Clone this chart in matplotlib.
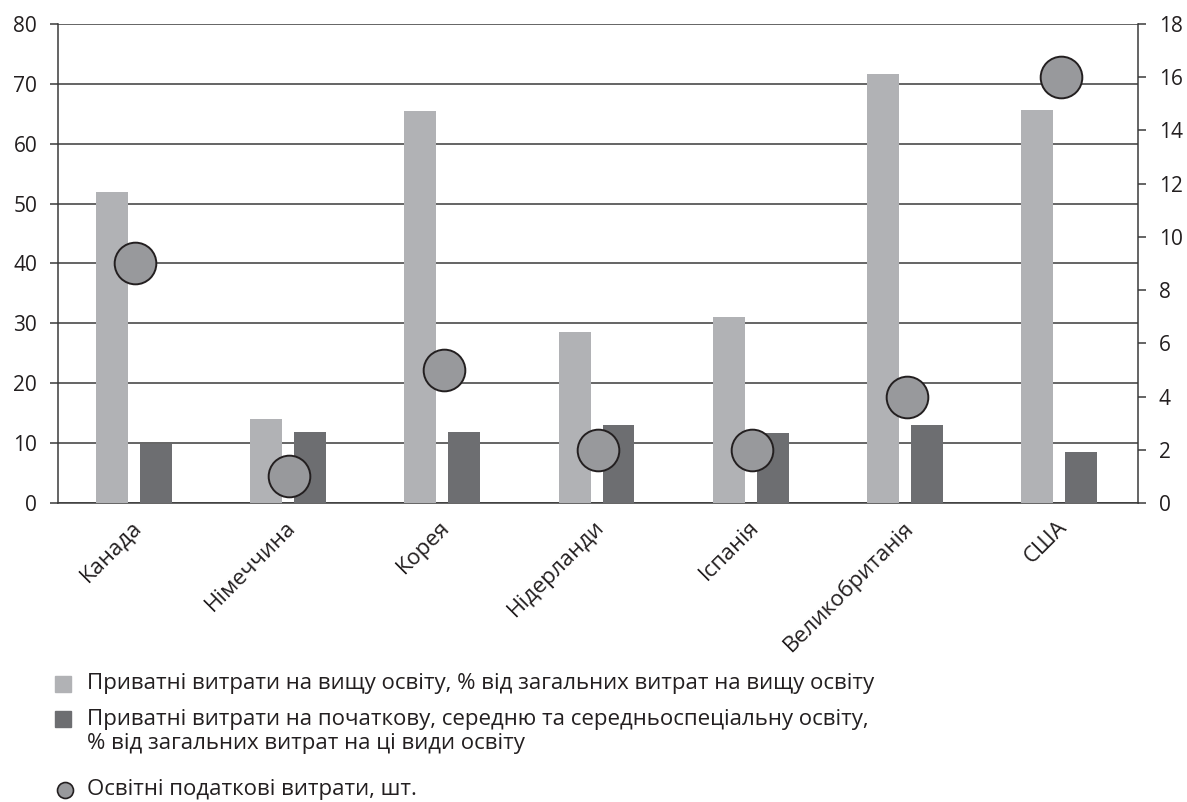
import matplotlib.pyplot as plt
import matplotlib.transforms as mtransforms
import numpy as np
from matplotlib.lines import Line2D

plt.rcParams['font.family'] = ['Open Sans', 'DejaVu Sans']

countries = ['Канада', 'Німеччина', 'Корея', 'Нідерланди', 'Іспанія', 'Великобританія', 'США']
higher_ed = [52, 14, 65.5, 28.5, 31, 71.7, 65.7]
school_ed = [9.8, 11.8, 11.8, 13.1, 11.7, 13.1, 8.5]
tax_exp = [9, 1, 5, 2, 2, 4, 16]

legend_labels = [
    'Приватні витрати на вищу освіту, % від загальних витрат на вищу освіту',
    'Приватні витрати на початкову, середню та середньоспеціальну освіту,',
    '% від загальних витрат на ці види освіту',
    'Освітні податкові витрати, шт.',
]

c_light = '#b1b2b5'
c_dark = '#6d6e71'
c_circle = '#98999c'
c_line = '#3a3a3a'
c_text = '#231f20'

fig = plt.figure(figsize=(11.87, 8.02), dpi=100)
ax = fig.add_axes([58/1187, 1-503/802, 1080/1187, 479/802])

x = np.arange(len(countries))
w = 0.207
ax.bar(x - 0.152, higher_ed, w, color=c_light, zorder=3)
ax.bar(x + 0.133, school_ed, w, color=c_dark, zorder=3)

ax.set_xlim(-0.5, 6.5)
ax.set_ylim(0, 80)
ax.set_yticks(range(0, 81, 10))
ax.yaxis.grid(True, color=c_line, lw=1.1, zorder=0)
ax.set_axisbelow(True)
for s in ['left', 'right', 'bottom']:
    ax.spines[s].set_color(c_line)
    ax.spines[s].set_linewidth(1.1)
ax.spines['top'].set_visible(False)
ax.tick_params(axis='y', length=6, width=1.1, color=c_line, pad=9, labelsize=15, labelcolor=c_text)
ax.set_xticks(x)
ax.set_xticklabels(countries, rotation=45, ha='right', va='top', rotation_mode='anchor', fontsize=16, color=c_text)
ax.tick_params(axis='x', length=0, pad=10)
shift = mtransforms.ScaledTranslation(-4/100, 0, fig.dpi_scale_trans)
for lbl in ax.get_xticklabels():
    lbl.set_transform(lbl.get_transform() + shift)

ax2 = ax.twinx()
ax2.set_ylim(0, 18)
ax2.set_yticks(range(0, 19, 2))
ax2.scatter(x, tax_exp, s=900, color=c_circle, edgecolor=c_text, linewidth=1.4, zorder=5, clip_on=False)
for s in ['left', 'right', 'bottom', 'top']:
    ax2.spines[s].set_visible(False)
ax2.tick_params(axis='y', length=6, width=1.1, color=c_line, pad=9, labelsize=15, labelcolor=c_text)

# легенда
tx = 87 / 1187
ys = [684, 720, 744, 790]
fig.add_artist(Line2D([63.5/1187], [1-684/802], marker='s', ms=12, color=c_light, transform=fig.transFigure))
fig.add_artist(Line2D([63.5/1187], [1-719/802], marker='s', ms=12, color=c_dark, transform=fig.transFigure))
fig.add_artist(Line2D([65/1187], [1-790/802], marker='o', ms=11.5, color=c_circle, mec=c_text, mew=1.2,
                      transform=fig.transFigure))
for lab, y in zip(legend_labels, ys):
    fig.text(tx, 1 - y/802, lab, ha='left', va='center', fontsize=16, color=c_text)

fig.savefig('out.png', dpi=100)
